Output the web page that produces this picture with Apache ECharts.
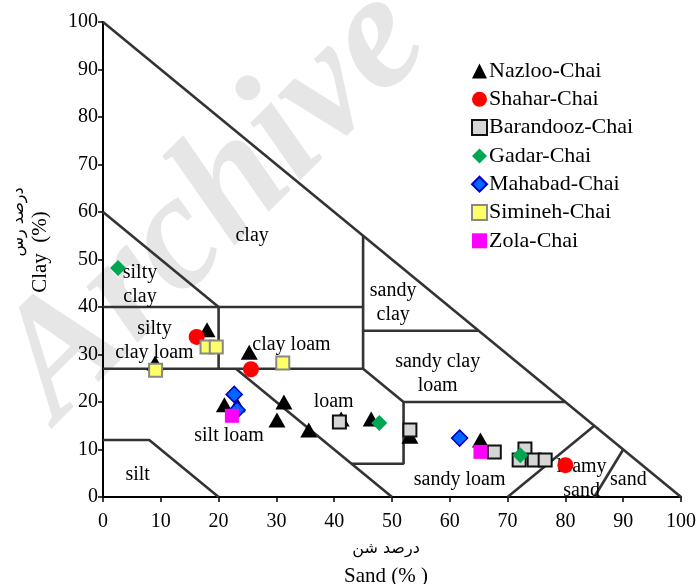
<!DOCTYPE html>
<html>
<head>
<meta charset="utf-8">
<script src="https://cdn.jsdelivr.net/npm/echarts@6/dist/echarts.min.js"></script>
<style>
  html, body { margin: 0; padding: 0; background: #fff; }
  #chart { width: 699px; height: 584px; }
</style>
</head>
<body>
<div id="chart"></div>
<script>
// Sample points: [sand %, clay %]
const nazloo = [[18.0, 35.2], [9.0, 28.2], [25.3, 30.5], [21.0, 19.4], [23.2, 19.4], [31.3, 20.0],
                [30.1, 16.2], [35.6, 14.1], [41.2, 16.4], [46.4, 16.4], [53.1, 12.8], [65.3, 12.0]];
const shahar = [[16.2, 33.7], [25.6, 26.9], [80.0, 6.7]];
const barandooz = [[40.9, 15.8], [53.1, 14.1], [67.7, 9.5], [73.0, 10.1], [72.0, 7.8], [74.6, 7.8], [76.5, 7.8]];
const gadar = [[2.6, 48.2], [47.8, 15.6], [72.2, 8.8]];
const mahabad = [[23.2, 18.3], [22.7, 21.6], [61.7, 12.4]];
const simineh = [[9.1, 26.7], [18.0, 31.6], [19.6, 31.6], [31.1, 28.2]];
const zola = [[22.3, 17.1], [65.3, 9.5]];

// Texture class boundaries, each a polyline of [sand, clay]
const boundaries = [
  [[0, 100], [100, 0]],
  [[0, 60], [20, 40]],
  [[0, 40], [45, 40]],
  [[20, 40], [20, 27]],
  [[45, 55], [45, 27]],
  [[45, 35], [65, 35]],
  [[0, 27], [45, 27], [52, 20], [80, 20]],
  [[23, 27], [50, 0]],
  [[52, 20], [52, 7], [43, 7]],
  [[0, 12], [8, 12], [20, 0]],
  [[70, 0], [85, 15]],
  [[85, 0], [90, 10]]
];

// Texture class names and where they sit [sand, clay]
const classNames = ['clay', 'silty\nclay', 'silty\nclay loam', 'sandy\nclay', 'clay loam', 'sandy clay\nloam',
                    'loam', 'silt loam', 'silt', 'sandy loam', 'loamy\nsand', 'sand'];
const classPos = [[25.8, 55], [6.4, 44.6], [8.9, 33], [50.2, 40.8], [32.6, 32], [57.9, 25.9],
                  [39.9, 20], [21.8, 12.8], [6, 4.6], [61.7, 3.6], [82.8, 3.8], [90.9, 3.6]];

const xTicks = [0, 10, 20, 30, 40, 50, 60, 70, 80, 90, 100];
const yTicks = [0, 10, 20, 30, 40, 50, 60, 70, 80, 90, 100];

const serif = "'Liberation Serif', 'Times New Roman', serif";
const chart = echarts.init(document.getElementById('chart'));

const lineSeries = boundaries.map((seg) => ({
  type: 'line', data: seg, symbol: 'none', silent: true, z: 1,
  lineStyle: { color: '#333', width: 2.6 }, animation: false
}));

const labelSeries = {
  type: 'scatter', symbolSize: 0, silent: true, z: 2, animation: false,
  itemStyle: { opacity: 1 },
  data: classPos.map((p, i) => ({ value: p, name: classNames[i] })),
  label: {
    show: true, position: 'inside', formatter: (p) => p.name,
    fontFamily: serif, fontSize: 20, color: '#000', lineHeight: 24, align: 'center'
  }
};

function pts(name, data, symbol, size, color, border, bw) {
  return {
    name, type: 'scatter', data, symbol, symbolSize: size, z: 5, animation: false,
    itemStyle: { color, borderColor: border || color, borderWidth: bw || 0, opacity: 1 }
  };
}

chart.setOption({
  animation: false,
  grid: { left: 103, right: 14, top: 22, bottom: 87 },
  xAxis: {
    type: 'value', min: 0, max: 100, interval: 10,
    axisLine: { lineStyle: { color: '#000', width: 2 } },
    axisTick: { lineStyle: { color: '#000', width: 1.5 }, length: 5 },
    axisLabel: { fontFamily: serif, fontSize: 20, color: '#000', margin: 15,
      formatter: (v) => xTicks.includes(v) ? String(v) : '' },
    splitLine: { show: false }
  },
  yAxis: {
    type: 'value', min: 0, max: 100, interval: 10,
    axisLine: { lineStyle: { color: '#000', width: 2 } },
    axisTick: { lineStyle: { color: '#000', width: 1.5 }, length: 5 },
    axisLabel: { fontFamily: serif, fontSize: 20, color: '#000', margin: 5,
      formatter: (v) => yTicks.includes(v) ? String(v) : '' },
    splitLine: { show: false }
  },
  legend: {
    orient: 'vertical', left: 466, top: 55, itemWidth: 15, itemHeight: 15, itemGap: 6.3,
    textStyle: { fontFamily: serif, fontSize: 22, color: '#000', padding: [0, 0, 0, -3] },
    data: [
      { name: 'Nazloo-Chai', icon: 'triangle' },
      { name: 'Shahar-Chai', icon: 'circle' },
      { name: 'Barandooz-Chai', icon: 'rect' },
      { name: 'Gadar-Chai', icon: 'diamond' },
      { name: 'Mahabad-Chai', icon: 'diamond' },
      { name: 'Simineh-Chai', icon: 'rect' },
      { name: 'Zola-Chai', icon: 'rect' }
    ]
  },
  graphic: [
    { type: 'text', x: 215, y: 205, z: -10, rotation: Math.PI * 0.25, silent: true,
      style: { text: 'Archive', fill: '#e6e6e6', font: "italic bold 165px 'Liberation Serif'",
        align: 'center', verticalAlign: 'middle' } },
    { type: 'text', x: 19, y: 222, rotation: Math.PI / 2,
      style: { text: 'درصد رس', font: "16px 'DejaVu Sans'", fill: '#000', align: 'center', verticalAlign: 'middle' } },
    { type: 'text', x: 40, y: 252, rotation: Math.PI / 2,
      style: { text: 'Clay  (%)', font: "21px 'Liberation Serif'", fill: '#000', align: 'center', verticalAlign: 'middle' } },
    { type: 'text', x: 386, y: 549,
      style: { text: 'درصد شن', font: "16px 'DejaVu Sans'", fill: '#000', align: 'center', verticalAlign: 'middle' } },
    { type: 'text', x: 386, y: 576,
      style: { text: 'Sand (% )', font: "21px 'Liberation Serif'", fill: '#000', align: 'center', verticalAlign: 'middle' } }
  ],
  series: [
    ...lineSeries,
    labelSeries,
    pts('Nazloo-Chai', nazloo, 'triangle', [17, 15], '#000'),
    pts('Barandooz-Chai', barandooz, 'rect', 13, '#d6d6d6', '#111', 2),
    pts('Shahar-Chai', shahar, 'circle', 16, '#ff0000'),
    pts('Simineh-Chai', simineh, 'rect', 13, '#ffff66', '#888', 2),
    pts('Mahabad-Chai', mahabad, 'diamond', 16, '#0066ff', '#0000cc', 1.5),
    pts('Gadar-Chai', gadar, 'diamond', 16, '#00a651'),
    pts('Zola-Chai', zola, 'rect', 14, '#ff00ff')
  ]
});
</script>
</body>
</html>
